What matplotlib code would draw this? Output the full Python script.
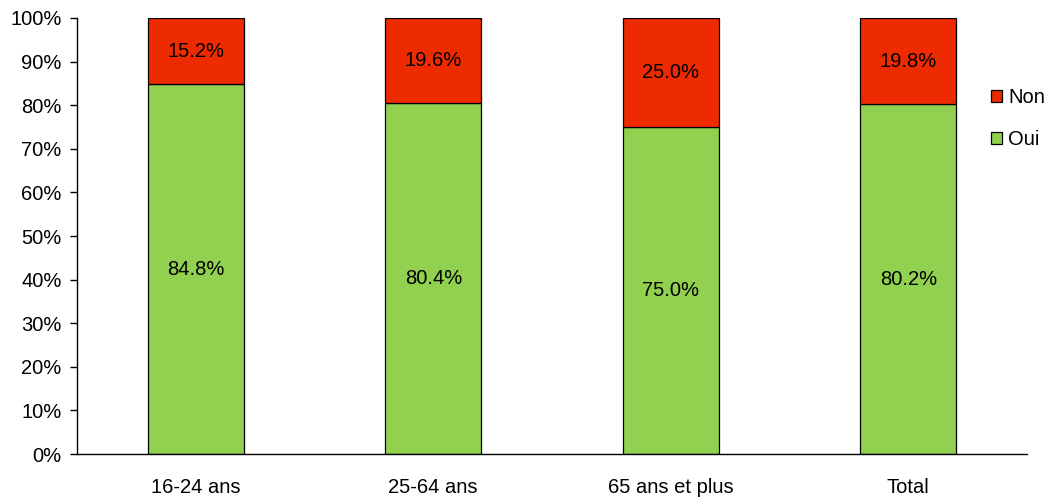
import matplotlib
matplotlib.use("Agg")
import matplotlib.pyplot as plt
from matplotlib.ticker import FuncFormatter

plt.rcParams['font.family'] = ['Liberation Sans', 'DejaVu Sans']

categories = ["16-24 ans", "25-64 ans", "65 ans et plus", "Total"]
oui = [84.8, 80.4, 75.0, 80.2]
non = [15.2, 19.6, 25.0, 19.8]

green = "#92D050"
red = "#EE2A00"
fs = 14.5

fig = plt.figure(figsize=(10.47, 5.0), dpi=100)
ax = fig.add_axes([77 / 1047, 46 / 500, 950 / 1047, 436 / 500])

x = list(range(len(categories)))
width = 0.404
b1 = ax.bar(x, oui, width, color=green, edgecolor="black", linewidth=0.9, label="Oui", zorder=2)
b2 = ax.bar(x, non, width, bottom=oui, color=red, edgecolor="black", linewidth=0.9, label="Non", zorder=2)

for xi, o, n in zip(x, oui, non):
    ax.text(xi, o / 2, f"{o:.1f}%", ha="center", va="center", fontsize=fs)
    ax.text(xi, o + n / 2, f"{n:.1f}%", ha="center", va="center", fontsize=fs)

ax.set_xlim(-0.5, len(categories) - 0.5)
ax.set_ylim(0, 100)
ax.set_yticks(range(0, 101, 10))
ax.yaxis.set_major_formatter(FuncFormatter(lambda v, p: f"{int(v)}%"))
ax.set_xticks(x)
ax.set_xticklabels(categories)
ax.tick_params(axis="x", length=0, pad=17, labelsize=fs)
ax.tick_params(axis="y", length=5, width=1, pad=6, labelsize=fs)

for s in ["top", "right"]:
    ax.spines[s].set_visible(False)
ax.spines["left"].set_linewidth(1)
ax.spines["bottom"].set_linewidth(1)

handles = [b2, b1]
ax.legend(handles, ["Non", "Oui"], loc="upper left", bbox_to_anchor=(991 / 1047, 1 - 88 / 500),
          bbox_transform=fig.transFigure, frameon=False, fontsize=fs,
          handlelength=0.55, handleheight=0.55, handletextpad=0.3, labelspacing=1.15,
          borderpad=0, borderaxespad=0)

fig.savefig("out.png", dpi=100)
